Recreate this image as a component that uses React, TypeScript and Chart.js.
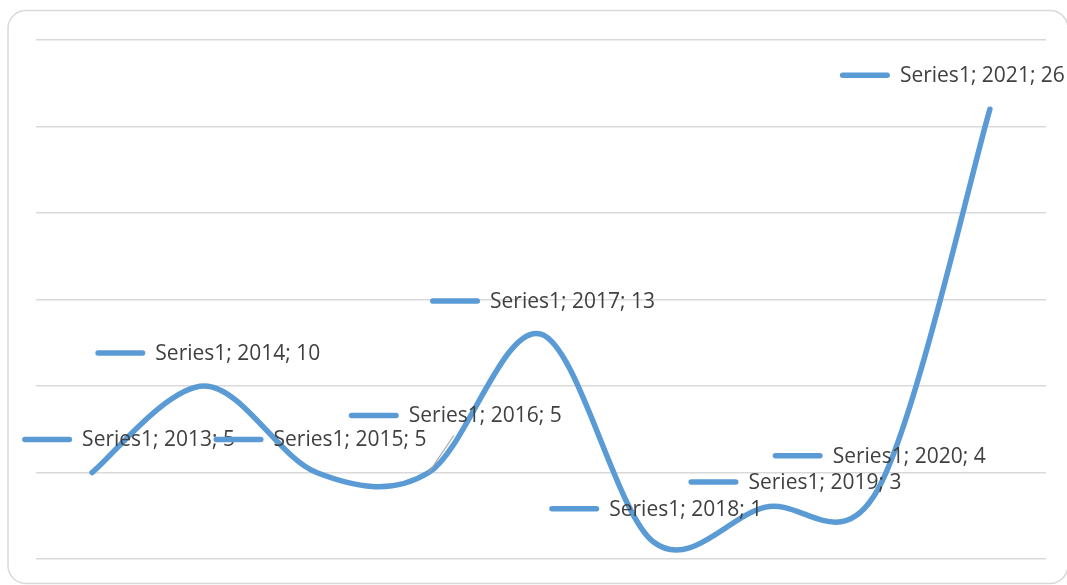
import React, { useEffect, useRef } from 'react';
import { Chart, registerables } from 'chart.js';

Chart.register(...registerables);

const categories = ['2013', '2014', '2015', '2016', '2017', '2018', '2019', '2020', '2021'];
const values = [5, 10, 5, 5, 13, 1, 3, 4, 26];
const seriesName = 'Series1';
const yTicks = { min: 0, max: 30, step: 5 };

// label placement (pixel offsets of legend-key start from each point)
const labelOffsets: [number, number][] = [
  [-70, -33], [-109, -33], [-103, -33], [-80, -57], [-111, -33],
  [-104, -33], [-77, -25], [-105, -34], [-150, -34],
];
const leaderLines: { index: number; dx: number; dy: number }[] = [{ index: 3, dx: 25, dy: -37 }];

const LINE_COLOR = '#5B9BD5';
const TEXT_COLOR = '#404040';
const FONT = '21px "Open Sans"';
const SMOOTH = 1 / 6;
const LINE_WIDTH = 5.5;

const framePlugin = {
  id: 'frame',
  beforeDraw(chart: any) {
    const ctx = chart.ctx;
    ctx.save();
    ctx.fillStyle = '#ffffff';
    ctx.fillRect(0, 0, chart.width, chart.height);
    ctx.beginPath();
    ctx.roundRect(8, 10.5, 1060, 573, 18);
    ctx.strokeStyle = '#d9d9d9';
    ctx.lineWidth = 1.5;
    ctx.stroke();
    ctx.restore();
  },
};

// Excel-like uniform Catmull-Rom smoothing of the library's own points
const smoothPlugin = {
  id: 'excelSmooth',
  beforeDatasetsDraw(chart: any) {
    const meta = chart.getDatasetMeta(0);
    const line = meta.dataset;
    if (line && line.updateControlPoints) line.updateControlPoints(chart.chartArea, 'x');
    const pts = meta.data;
    const n = pts.length;
    for (let i = 0; i < n; i++) {
      const p = pts[i];
      const prev = pts[Math.max(i - 1, 0)];
      const next = pts[Math.min(i + 1, n - 1)];
      const dx = (next.x - prev.x) * SMOOTH;
      const dy = (next.y - prev.y) * SMOOTH;
      p.cp1x = p.x - dx;
      p.cp1y = p.y - dy;
      p.cp2x = p.x + dx;
      p.cp2y = p.y + dy;
    }
    if (line) {
      line._pointsUpdated = true;
      line._path = undefined;
    }
  },
};

const labelPlugin = {
  id: 'dataLabels',
  afterDatasetsDraw(chart: any) {
    const ctx = chart.ctx;
    const meta = chart.getDatasetMeta(0);
    ctx.save();
    leaderLines.forEach((l) => {
      const p = meta.data[l.index];
      ctx.beginPath();
      ctx.moveTo(p.x, p.y);
      ctx.lineTo(p.x + l.dx, p.y + l.dy);
      ctx.strokeStyle = '#a6a6a6';
      ctx.lineWidth = 1.2;
      ctx.stroke();
    });
    meta.data.forEach((p: any, i: number) => {
      const [dx, dy] = labelOffsets[i];
      const x = p.x + dx;
      const y = p.y + dy;
      ctx.beginPath();
      ctx.moveTo(x + 2.75, y);
      ctx.lineTo(x + 47.25, y);
      ctx.strokeStyle = LINE_COLOR;
      ctx.lineWidth = LINE_WIDTH;
      ctx.lineCap = 'round';
      ctx.stroke();
      ctx.font = FONT;
      ctx.fillStyle = TEXT_COLOR;
      ctx.textBaseline = 'middle';
      ctx.textAlign = 'left';
      ctx.fillText(`${seriesName}; ${categories[i]}; ${values[i]}`, x + 60, y + 1);
    });
    ctx.restore();
  },
};

export default function App() {
  const ref = useRef<HTMLCanvasElement>(null);
  useEffect(() => {
    document.body.style.margin = '0';
    const chart = new Chart(ref.current as HTMLCanvasElement, {
      type: 'line',
      data: {
        labels: categories,
        datasets: [
          {
            label: seriesName,
            data: values,
            borderColor: LINE_COLOR,
            borderWidth: LINE_WIDTH,
            tension: 0.4,
            pointRadius: 0,
            fill: false,
            borderCapStyle: 'round',
            borderJoinStyle: 'round',
          },
        ],
      },
      options: {
        animation: false,
        responsive: false,
        layout: { padding: { left: 36, right: 21, top: 40, bottom: 26 } },
        plugins: { legend: { display: false }, tooltip: { enabled: false } },
        scales: {
          x: { display: false, offset: true },
          y: {
            min: yTicks.min,
            max: yTicks.max,
            ticks: { stepSize: yTicks.step, display: false },
            grid: { color: '#d9d9d9', lineWidth: 1.5, drawTicks: false },
            border: { display: false },
            afterFit: (s: any) => {
              s.width = 0;
            },
          },
        },
      },
      plugins: [framePlugin, smoothPlugin, labelPlugin],
    } as any);
    return () => chart.destroy();
  }, []);
  return <canvas ref={ref} width={1067} height={585} style={{ display: 'block' }} />;
}
